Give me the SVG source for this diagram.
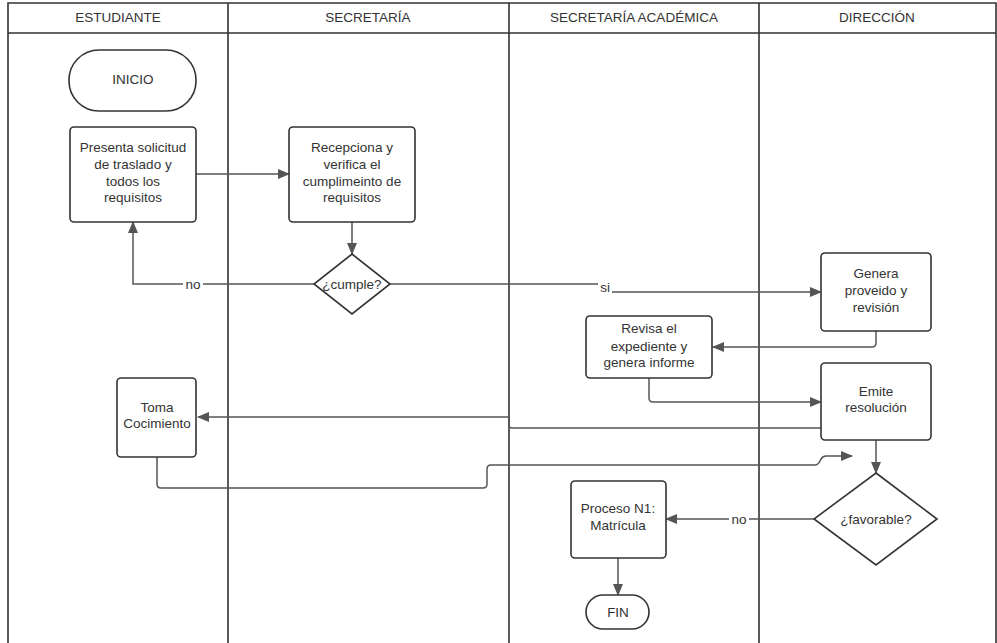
<svg xmlns="http://www.w3.org/2000/svg" width="997" height="643" viewBox="0 0 997 643">
<defs>
<marker id="arr" markerUnits="userSpaceOnUse" markerWidth="12" markerHeight="10" refX="11" refY="5" orient="auto">
<path d="M0,0 L12,5 L0,10 Z" fill="#555"/>
</marker>
<style>
.lane{fill:none;stroke:#333;stroke-width:1.6}
.box{fill:#fff;stroke:#333;stroke-width:1.6}
.con{fill:none;stroke:#555;stroke-width:1.5}
.conA{fill:none;stroke:#555;stroke-width:1.5;marker-end:url(#arr)}
text{font-family:"Liberation Sans",Arial,sans-serif;font-size:13.5px;fill:#333;text-anchor:middle}
.lbl{fill:#fff;stroke:none}
</style>
</defs>
<rect width="997" height="643" fill="#fff"/>
<g id="lanes">
<path class="lane" d="M8,643 V3 H996 V643 M8,33 H996 M228,3 V643 M509,3 V643 M759,3 V643"/>
<text x="118" y="22">ESTUDIANTE</text>
<text x="368" y="22">SECRETARÍA</text>
<text x="634" y="22">SECRETARÍA ACADÉMICA</text>
<text x="877" y="22">DIRECCIÓN</text>
</g>
<g id="connectors">
<path class="conA" d="M196,174 H289"/>
<path class="conA" d="M352,222 V254"/>
<path class="conA" d="M314,284 H133 V222"/>
<rect class="lbl" x="183" y="277" width="20" height="14"/>
<text x="193" y="289">no</text>
<path class="conA" d="M390,284 H598 L604,292 H821"/>
<rect class="lbl" x="598" y="280" width="14" height="14"/>
<text x="605" y="292">si</text>
<path class="conA" d="M876,331 V343 Q876,347 872,347 H713"/>
<path class="conA" d="M649,378 V398 Q649,402 653,402 H821"/>
<path class="conA" d="M821,428 H512 Q509,428 509,425 V417 H198"/>
<path class="conA" d="M157,457 V484 Q157,488 161,488 H483 Q487,488 487,484 V469 Q487,465 491,465 H815 Q818,465 820,461 L821,459 Q823,456 826,456 H852"/>
<path class="conA" d="M876,440 V473"/>
<path class="conA" d="M814,519 H666"/>
<rect class="lbl" x="729" y="512" width="20" height="14"/>
<text x="739" y="524">no</text>
<path class="conA" d="M618,558 V595"/>
</g>
<g id="inicio">
<rect class="box" x="69" y="50" width="127" height="61" rx="30"/>
<text x="133" y="84">INICIO</text>
</g>
<g id="presenta">
<rect class="box" x="70" y="127" width="126" height="95" rx="4"/>
<text x="133" y="152">Presenta solicitud</text>
<text x="133" y="169">de traslado y</text>
<text x="133" y="186">todos los</text>
<text x="133" y="202">requisitos</text>
</g>
<g id="recepciona">
<rect class="box" x="289" y="127" width="126" height="95" rx="4"/>
<text x="352" y="152">Recepciona y</text>
<text x="352" y="169">verifica el</text>
<text x="352" y="186">cumplimeinto de</text>
<text x="352" y="202">requisitos</text>
</g>
<g id="cumple">
<path class="box" d="M352,254 L390,284 L352,314 L314,284 Z"/>
<text x="352" y="289">¿cumple?</text>
</g>
<g id="genera">
<rect class="box" x="821" y="253" width="110" height="78" rx="4"/>
<text x="876" y="278">Genera</text>
<text x="876" y="295">proveido y</text>
<text x="876" y="312">revisión</text>
</g>
<g id="revisa">
<rect class="box" x="586" y="316" width="126" height="62" rx="4"/>
<text x="649" y="333">Revisa el</text>
<text x="649" y="351">expediente y</text>
<text x="649" y="367">genera informe</text>
</g>
<g id="emite">
<rect class="box" x="821" y="363" width="110" height="77" rx="4"/>
<text x="876" y="396">Emite</text>
<text x="876" y="412">resolución</text>
</g>
<g id="toma">
<rect class="box" x="117" y="378" width="79" height="79" rx="4"/>
<text x="157" y="412">Toma</text>
<text x="157" y="428">Cocimiento</text>
</g>
<g id="favorable">
<path class="box" d="M876,473 L937,519 L876,565 L814,519 Z"/>
<text x="876" y="524">¿favorable?</text>
</g>
<g id="proceso">
<rect class="box" x="571" y="481" width="95" height="77" rx="4"/>
<text x="618" y="513">Proceso N1:</text>
<text x="618" y="530">Matrícula</text>
</g>
<g id="fin">
<rect class="box" x="586" y="595" width="63" height="34" rx="17"/>
<text x="618" y="617">FIN</text>
</g>
</svg>
